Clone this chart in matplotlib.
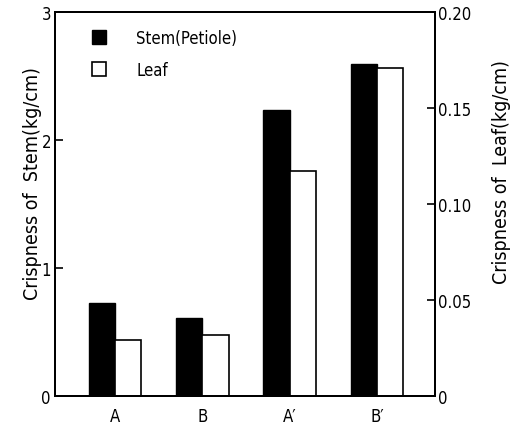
import numpy as np
import matplotlib
matplotlib.use('Agg')
import matplotlib.pyplot as plt
from matplotlib.patches import Patch

plt.rcParams['font.family'] = ['DejaVu Sans']
plt.rcParams['font.stretch'] = 'condensed'

# data
groups = ['A', 'B', 'A\u2032', 'B\u2032']
stem = [0.73, 0.61, 2.23, 2.59]       # kg/cm, left axis
leaf = [0.029, 0.032, 0.117, 0.171]   # kg/cm, right axis

x = np.arange(len(groups))
w = 0.3

fig = plt.figure(figsize=(5.2, 4.27), dpi=100)
ax = fig.add_axes([0.106, 0.070, 0.731, 0.900])
ax2 = ax.twinx()

ax.bar(x - w / 2, stem, w, color='black', edgecolor='black', linewidth=1)
ax2.bar(x + w / 2, leaf, w, color='white', edgecolor='black', linewidth=1.2)

ax.set_xlim(-0.69, 3.67)
ax.set_ylim(0, 3)
ax2.set_ylim(0, 0.20)

ax.set_xticks(x)
ax.set_xticklabels(groups, fontsize=12)
ax.tick_params(axis='x', length=0, pad=8)
ax.set_yticks([0, 1, 2, 3])
ax.set_yticklabels(['0', '1', '2', '3'], fontsize=12)
ax.tick_params(axis='y', direction='in', length=6, width=1.2, pad=3)
ax2.set_yticks([0, 0.05, 0.10, 0.15, 0.20])
ax2.set_yticklabels(['0', '0.05', '0.10', '0.15', '0.20'], fontsize=12)
ax2.tick_params(axis='y', direction='in', length=6, width=1.2, pad=2)

for a in (ax, ax2):
    for s in a.spines.values():
        s.set_linewidth(1.4)

ax.set_ylabel('Crispness of  Stem(kg/cm)', fontsize=14)
ax.yaxis.set_label_coords(-0.035, 0.555)
ax2.set_ylabel('Crispness of  Leaf(kg/cm)', fontsize=14)
ax2.yaxis.set_label_coords(1.150, 0.585)

handles = [Patch(facecolor='black', edgecolor='black'),
           Patch(facecolor='white', edgecolor='black', linewidth=1.2)]
ax2.legend(handles, ['Stem(Petiole)', 'Leaf'], loc='upper left',
           bbox_to_anchor=(0.058, 0.995), frameon=False, fontsize=12,
           handlelength=0.85, handleheight=0.85, handletextpad=1.8,
           labelspacing=0.85)

fig.savefig('out.png', dpi=100)
